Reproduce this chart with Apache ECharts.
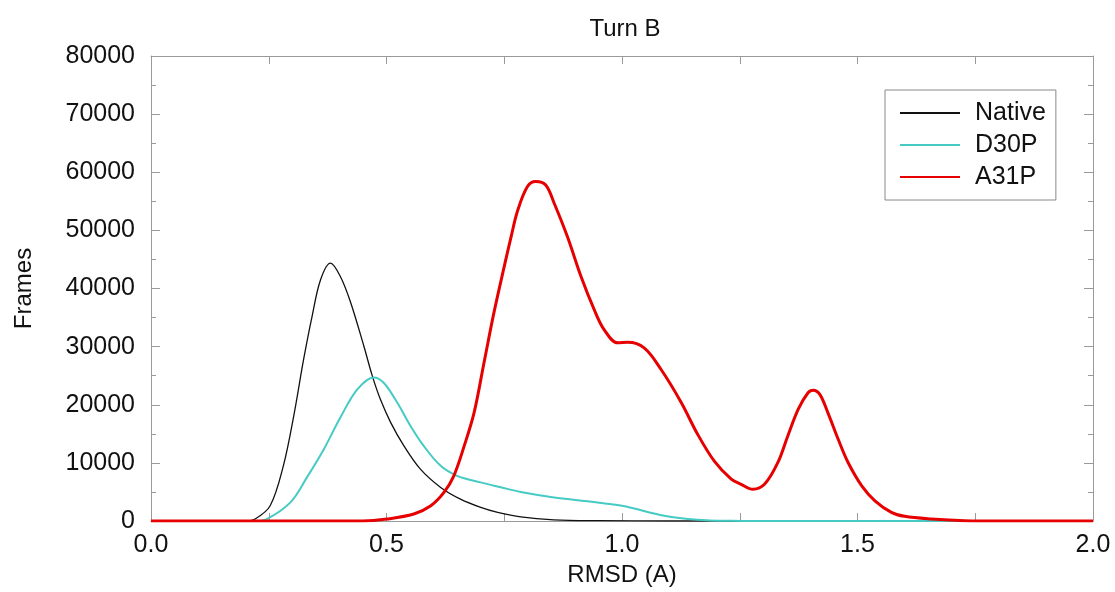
<!DOCTYPE html>
<html>
<head>
<meta charset="utf-8">
<script src="https://cdn.jsdelivr.net/npm/echarts@6/dist/echarts.min.js"></script>
<style>
html,body{margin:0;padding:0;background:#fff;}
#chart{width:1115px;height:592px;}
</style>
</head>
<body>
<div id="chart"></div>
<script>
// Tick labels
var xTicks = [0, 0.5, 1.0, 1.5, 2.0];
var yTicks = [0, 10000, 20000, 30000, 40000, 50000, 60000, 70000, 80000];

// Native (black)
var nativeX = [0, 0.20, 0.221, 0.253, 0.281, 0.303, 0.324, 0.342, 0.360, 0.381, 0.402, 0.423, 0.452, 0.470, 0.487, 0.509, 0.537, 0.572, 0.615, 0.657, 0.700, 0.736, 0.785, 0.855, 0.95, 1.1, 2.0];
var nativeY = [0, 0, 340, 2620, 9490, 18060, 27790, 35210, 41500, 44370, 42070, 37800, 30070, 24920, 20930, 16930, 12920, 8920, 5780, 3770, 2350, 1490, 700, 200, 50, 0, 0];

// D30P (cyan)
var d30pX = [0, 0.22, 0.246, 0.296, 0.331, 0.367, 0.402, 0.438, 0.473, 0.494, 0.523, 0.551, 0.579, 0.615, 0.650, 0.700, 0.743, 0.785, 0.856, 0.927, 1.0, 1.09, 1.16, 1.23, 1.3, 2.0];
var d30pY = [0, 0, 340, 3200, 7500, 12350, 17800, 22640, 24700, 23790, 20360, 16350, 12920, 9490, 7770, 6640, 5800, 5000, 4060, 3400, 2620, 910, 220, 30, 0, 0];

// A31P (red)
var a31pX = [0, 0.45, 0.501, 0.558, 0.594, 0.622, 0.643, 0.665, 0.686, 0.707, 0.728, 0.750, 0.764, 0.778, 0.799, 0.817, 0.838, 0.856, 0.884, 0.913, 0.941, 0.962, 0.991, 1.012, 1.047, 1.083, 1.126, 1.16, 1.196, 1.232, 1.253, 1.278, 1.303, 1.331, 1.352, 1.374, 1.395, 1.406, 1.420, 1.437, 1.459, 1.480, 1.509, 1.537, 1.572, 1.60, 1.657, 1.728, 1.8, 2.0];
var a31pY = [0, 0, 340, 1200, 2620, 4920, 7780, 12920, 18640, 27220, 35800, 43800, 48700, 53300, 57510, 58400, 57800, 54670, 48940, 42070, 36360, 32930, 30650, 30750, 29790, 26070, 20360, 15000, 10300, 7200, 6300, 5450, 6350, 10070, 14630, 19210, 22070, 22500, 21780, 18640, 14060, 10070, 6050, 3480, 1490, 800, 340, 50, 0, 0];

function zip(xs, ys) { return xs.map(function (x, i) { return [x, ys[i]]; }); }

var FONT = '"Liberation Sans", Arial, Helvetica, sans-serif';
var AX = '#9a9a9a';

var chart = echarts.init(document.getElementById('chart'), null, {renderer: 'canvas'});
var xCommon = {
  type: 'value', min: xTicks[0], max: xTicks[xTicks.length - 1], interval: 0.5,
  axisLine: {show: true, onZero: false, lineStyle: {color: AX, width: 1}},
  axisTick: {show: true, inside: true, length: 8, lineStyle: {color: AX}},
  minorTick: {show: true, splitNumber: 2, length: 8, lineStyle: {color: AX}},
  splitLine: {show: false}
};
var yCommon = {
  type: 'value', min: yTicks[0], max: yTicks[yTicks.length - 1], interval: 10000,
  axisLine: {show: true, onZero: false, lineStyle: {color: AX, width: 1}},
  axisTick: {show: true, inside: true, length: 9, lineStyle: {color: AX}},
  minorTick: {show: true, splitNumber: 2, length: 5, lineStyle: {color: AX}},
  splitLine: {show: false}
};

chart.setOption({
  animation: false,
  backgroundColor: '#fff',
  title: {
    text: 'Turn B', left: 620, top: 12, textAlign: 'center',
    textStyle: {fontFamily: FONT, fontSize: 24, fontWeight: 'normal', color: '#111'}
  },
  legend: {
    orient: 'vertical', left: 885, top: 90,
    padding: [8, 10, 8, 14],
    borderColor: '#888', borderWidth: 1,
    itemWidth: 60, itemHeight: 14, itemGap: 2,
    itemStyle: {opacity: 0},
    textStyle: {fontFamily: FONT, fontSize: 25, color: '#111', lineHeight: 30, padding: [0, 0, 0, 10]},
    data: ['Native', 'D30P', 'A31P']
  },
  grid: {left: 151, right: 22, top: 56, bottom: 70, containLabel: false},
  xAxis: [
    Object.assign({}, xCommon, {
      position: 'bottom',
      name: 'RMSD (A)', nameLocation: 'middle', nameGap: 42,
      nameTextStyle: {fontFamily: FONT, fontSize: 24, color: '#111'},
      axisLabel: {show: true, margin: 12, fontFamily: FONT, fontSize: 25, color: '#111',
        formatter: function (v) { return v.toFixed(1); }}
    }),
    Object.assign({}, xCommon, {position: 'top', axisLabel: {show: false}})
  ],
  yAxis: [
    Object.assign({}, yCommon, {
      position: 'left',
      name: 'Frames', nameLocation: 'middle', nameGap: 115,
      nameTextStyle: {fontFamily: FONT, fontSize: 24, color: '#111'},
      axisLabel: {show: true, margin: 16, fontFamily: FONT, fontSize: 25, color: '#111',
        formatter: function (v) { return String(v); }}
    }),
    Object.assign({}, yCommon, {position: 'right', axisLabel: {show: false}})
  ],
  series: [
    {name: 'Native', type: 'line', xAxisIndex: 0, yAxisIndex: 0, data: zip(nativeX, nativeY),
     showSymbol: false, symbol: 'none', smooth: 0.35,
     lineStyle: {color: '#111', width: 1.3}, itemStyle: {color: '#111'}, z: 2},
    {name: 'D30P', type: 'line', xAxisIndex: 0, yAxisIndex: 0, data: zip(d30pX, d30pY),
     showSymbol: false, symbol: 'none', smooth: 0.35,
     lineStyle: {color: '#45cbc4', width: 2}, itemStyle: {color: '#45cbc4'}, z: 3},
    {name: 'A31P', type: 'line', xAxisIndex: 0, yAxisIndex: 0, data: zip(a31pX, a31pY),
     showSymbol: false, symbol: 'none', smooth: 0.35,
     lineStyle: {color: '#e60000', width: 3}, itemStyle: {color: '#e60000'}, z: 4}
  ]
});
</script>
</body>
</html>
